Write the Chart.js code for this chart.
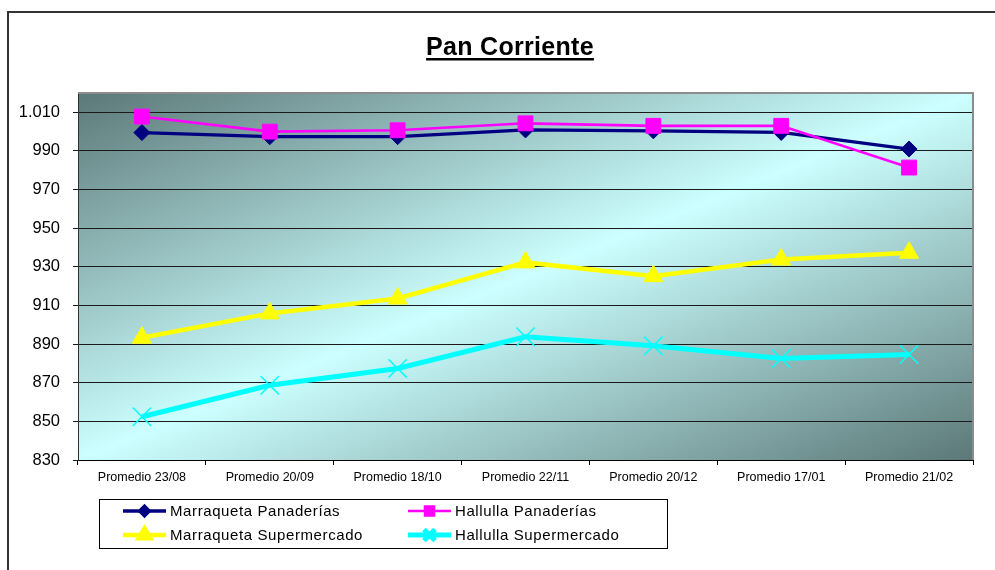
<!DOCTYPE html>
<html>
<head>
<meta charset="utf-8">
<script src="https://cdn.jsdelivr.net/npm/chart.js@4"></script>
<style>
  html, body { margin: 0; padding: 0; background: #fff; }
  #wrap { position: relative; width: 995px; height: 570px; }
</style>
</head>
<body>
<div id="wrap"><canvas id="pan" width="995" height="570"></canvas></div>
<script>
const fechas = ["Promedio 23/08", "Promedio 20/09", "Promedio 18/10", "Promedio 22/11", "Promedio 20/12", "Promedio 17/01", "Promedio 21/02"];
const marraquetaPan = [999.5, 997.4, 997.4, 1000.9, 1000.4, 999.6, 991];
const hallullaPan = [1007.8, 1000, 1000.7, 1004.3, 1003, 1003, 981.4];
const marraquetaSuper = [893.3, 905.9, 913.6, 932.3, 925.2, 933.8, 937.3];
const hallullaSuper = [852.4, 868.7, 877.4, 893.8, 889.1, 882.5, 884.6];
const yTicks = [830, 850, 870, 890, 910, 930, 950, 970, 990, 1010];

// fondo degradado del área del gráfico, marco, título y leyenda
const decor = {
  id: "decor",
  beforeDraw(chart) {
    const { ctx, chartArea: a } = chart;
    ctx.save();
    ctx.fillStyle = "#fff";
    ctx.fillRect(0, 0, chart.width, chart.height);
    ctx.translate(a.left, a.top);
    ctx.scale(a.right - a.left, a.bottom - a.top);
    const g = ctx.createLinearGradient(0, 0, 1, 1);
    g.addColorStop(0, "#5c7878");
    g.addColorStop(0.5, "#ccffff");
    g.addColorStop(1, "#5c7878");
    ctx.fillStyle = g;
    ctx.fillRect(0, 0, 1, 1);
    ctx.restore();
  },
  afterDraw(chart) {
    const { ctx, chartArea: a } = chart;
    ctx.save();
    // borde del área
    ctx.strokeStyle = "#8c8c8c";
    ctx.lineWidth = 2;
    ctx.beginPath();
    ctx.moveTo(a.left, a.top);
    ctx.lineTo(a.right, a.top);
    ctx.lineTo(a.right, a.bottom);
    ctx.stroke();
    // marco exterior
    ctx.strokeStyle = "#333";
    ctx.lineWidth = 2;
    ctx.strokeRect(8, 12, 1100, 700);
    // título
    ctx.fillStyle = "#000";
    ctx.font = "bold 25px Arial, 'Liberation Sans'";
    ctx.textAlign = "center";
    ctx.textBaseline = "alphabetic";
    ctx.letterSpacing = "0.3px";
    ctx.fillText("Pan Corriente", 510, 55);
    const tw = ctx.measureText("Pan Corriente").width;
    ctx.fillRect(510 - tw / 2, 58, tw, 2.5);
    // leyenda
    ctx.lineWidth = 1;
    ctx.strokeStyle = "#000";
    ctx.strokeRect(99.5, 499.5, 568, 49);
    ctx.font = "15px Arial, 'Liberation Sans'";
    ctx.letterSpacing = "0.6px";
    ctx.textAlign = "left";
    ctx.textBaseline = "middle";
    chart.data.datasets.forEach((ds, i) => {
      const x0 = i % 2 ? 408 : 123;
      const y = i < 2 ? 511 : 535;
      ctx.strokeStyle = ds.borderColor;
      ctx.lineWidth = ds.borderWidth;
      ctx.beginPath();
      ctx.moveTo(x0, y);
      ctx.lineTo(x0 + 43, y);
      ctx.stroke();
      ctx.fillStyle = ds.pointBackgroundColor;
      ctx.strokeStyle = ds.pointBorderColor;
      Chart.helpers.drawPoint(ctx, {
        pointStyle: ds.pointStyle, rotation: 0,
        radius: ds.pointRadius * 0.6, borderWidth: ds.pointBorderWidth
      }, x0 + 21.5, y);
      ctx.fillStyle = "#000";
      ctx.fillText(ds.label, x0 + 47, y + 1);
    });
    ctx.restore();
  }
};

function serie(label, data, color, width, style, radius, bw, order) {
  return {
    label, data, order,
    borderColor: color, borderWidth: width,
    pointStyle: style, pointRadius: radius, pointHoverRadius: radius,
    pointBackgroundColor: color, pointBorderColor: color, pointBorderWidth: bw,
    tension: 0, fill: false
  };
}

new Chart(document.getElementById("pan"), {
  type: "line",
  data: {
    labels: fechas,
    datasets: [
      serie("Marraqueta Panaderías", marraquetaPan, "#000080", 3.3, "rectRot", 8, 1, 1),
      serie("Hallulla Panaderías", hallullaPan, "#ff00ff", 2.6, "rect", 10.5, 1, 0),
      serie("Marraqueta Supermercado", marraquetaSuper, "#ffff00", 4.5, "triangle", 11, 1, 2),
      serie("Hallulla Supermercado", hallullaSuper, "#00ffff", 5, "crossRot", 13, 1.5, 3)
    ]
  },
  options: {
    responsive: false,
    animation: false,
    events: [],
    layout: { padding: { left: 0, top: 93, right: 22, bottom: 60 } },
    plugins: { legend: { display: false }, title: { display: false }, tooltip: { enabled: false } },
    scales: {
      x: {
        offset: true,
        afterFit(s) { s.height = 50; },
        border: { color: "#000", width: 1 },
        grid: { offset: true, drawOnChartArea: false, drawTicks: true, tickLength: 5, color: "#000" },
        ticks: { color: "#000", padding: 5, maxRotation: 0, font: { family: "Arial, 'Liberation Sans'", size: 12.5 } }
      },
      y: {
        min: 830, max: 1020,
        afterFit(s) { s.width = 78; },
        afterBuildTicks(s) { s.ticks = yTicks.map(v => ({ value: v })); },
        border: { color: "#303030", width: 1 },
        grid: { color: "#1a1a1a", lineWidth: 1, tickLength: 5, drawTicks: true },
        ticks: {
          color: "#000", padding: 13,
          font: { family: "Arial, 'Liberation Sans'", size: 16.5 },
          callback: v => v.toLocaleString("de-DE")
        }
      }
    }
  },
  plugins: [decor]
});
</script>
</body>
</html>
